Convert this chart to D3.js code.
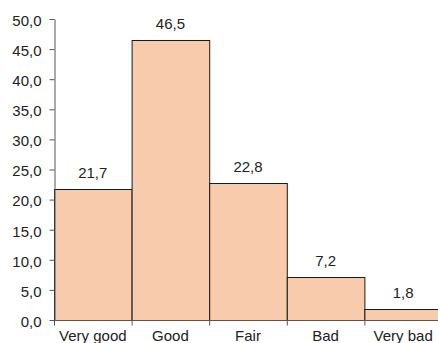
<!DOCTYPE html>
<html>
<head>
<meta charset="utf-8">
<script src="https://cdn.jsdelivr.net/npm/d3@7"></script>
<style>
  html, body { margin: 0; padding: 0; background: #fff; overflow: hidden; }
  svg { display: block; }
  text { font-family: "Liberation Sans", Arial, sans-serif; fill: #222; }
</style>
</head>
<body>
<svg id="chart" width="438" height="343"></svg>
<script>
// Self-rated health, percentage of respondents
const categories = ["Very good", "Good", "Fair", "Bad", "Very bad"];
const values = [21.7, 46.5, 22.8, 7.2, 1.8];
const yTicks = [0, 5, 10, 15, 20, 25, 30, 35, 40, 45, 50];

const svg = d3.select("#chart");
const margin = { left: 54, top: 19, bottom: 23 };
const plotRight = 442;
const plotBottom = 343 - margin.bottom;
const fontSize = 15;

const fmt = v => d3.format(".1f")(v).replace(".", ",");

const x = d3.scaleBand()
  .domain(categories)
  .range([margin.left, plotRight])
  .paddingInner(0)
  .paddingOuter(0);

const y = d3.scaleLinear()
  .domain([0, 50])
  .range([plotBottom, margin.top]);

// Bars
svg.append("g")
  .selectAll("rect")
  .data(values)
  .join("rect")
  .attr("x", (d, i) => x(categories[i]) + 0.5)
  .attr("y", d => Math.round(y(d)) + 0.5)
  .attr("width", x.bandwidth())
  .attr("height", d => plotBottom - Math.round(y(d)))
  .attr("fill", "#F8CBAD")
  .attr("stroke", "#1a1a1a")
  .attr("stroke-width", 1);

// Value labels
svg.append("g")
  .selectAll("text")
  .data(values)
  .join("text")
  .attr("x", (d, i) => x(categories[i]) + x.bandwidth() / 2)
  .attr("y", d => y(d) - 11)
  .attr("text-anchor", "middle")
  .attr("font-size", fontSize)
  .text(d => fmt(d));

// Y axis
const yAxis = svg.append("g")
  .attr("transform", `translate(${margin.left + 0.5},0)`)
  .call(d3.axisLeft(y).tickValues(yTicks).tickFormat(fmt).tickSize(5).tickSizeOuter(0));
yAxis.select(".domain").attr("stroke", "#555");
yAxis.selectAll(".tick line").attr("stroke", "#555");
yAxis.selectAll(".tick text")
  .attr("x", -13)
  .attr("dy", "0.42em")
  .attr("font-size", fontSize)
  .attr("font-family", "Liberation Sans, Arial, sans-serif")
  .attr("fill", "#222");

// X axis: ticks at category boundaries, labels centred in each band
const xAxis = svg.append("g")
  .attr("transform", `translate(0,${plotBottom + 0.5})`);
xAxis.append("line")
  .attr("x1", margin.left).attr("x2", plotRight)
  .attr("stroke", "#555");
const bounds = categories.map(c => x(c)).concat([plotRight]);
xAxis.selectAll("line.tick")
  .data(bounds)
  .join("line")
  .attr("class", "tick")
  .attr("x1", d => d + 0.5).attr("x2", d => d + 0.5)
  .attr("y1", 0).attr("y2", 5)
  .attr("stroke", "#555");
xAxis.selectAll("text")
  .data(categories)
  .join("text")
  .attr("x", d => x(d) + x.bandwidth() / 2)
  .attr("y", 20.5)
  .attr("text-anchor", "middle")
  .attr("font-size", fontSize)
  .text(d => d);
</script>
</body>
</html>
